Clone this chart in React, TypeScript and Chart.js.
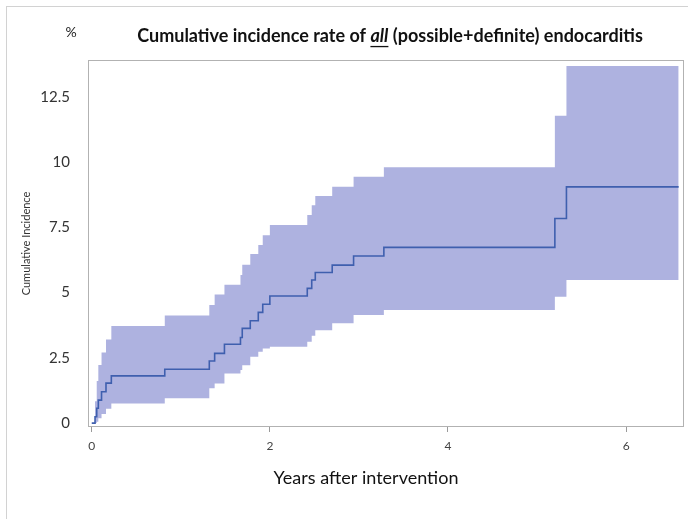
import React, { useEffect, useRef } from "react";
import { Chart, registerables } from "chart.js";

Chart.register(...registerables);

// ---- data (years after intervention, cumulative incidence %) ----
const times = [0, 0.037, 0.056, 0.074, 0.11, 0.16, 0.22, 0.82, 1.32, 1.38, 1.49, 1.67, 1.69, 1.78, 1.87, 1.92, 2.0, 2.42, 2.47, 2.51, 2.7, 2.94, 3.28, 5.2, 5.33, 6.59];
const cumulativeIncidence = [0, 0.24, 0.57, 0.88, 1.2, 1.53, 1.81, 2.06, 2.38, 2.67, 3.02, 3.28, 3.63, 3.92, 4.24, 4.55, 4.87, 5.16, 5.48, 5.77, 6.05, 6.4, 6.73, 7.84, 9.05, 9.05];
const lowerCI = [0, 0, 0.05, 0.19, 0.35, 0.55, 0.75, 0.95, 1.33, 1.52, 1.9, 2.03, 2.22, 2.54, 2.73, 2.86, 2.92, 3.12, 3.35, 3.56, 3.82, 4.14, 4.33, 4.84, 5.48, 5.48];
const upperCI = [0, 0.84, 1.61, 2.23, 2.7, 3.2, 3.72, 4.12, 4.52, 4.93, 5.3, 5.67, 6.07, 6.48, 6.82, 7.2, 7.59, 7.97, 8.35, 8.7, 9.05, 9.44, 9.8, 11.77, 13.68, 13.68];

const xTickValues = [0, 2, 4, 6];
const yTickValues = [0, 2.5, 5, 7.5, 10, 12.5];

const titleBefore = "Cumulative incidence rate of ";
const titleEmph = "all";
const titleAfter = " (possible+definite) endocarditis";
const unitLabel = "%";
const xAxisTitle = "Years after intervention";
const yAxisTitle = "Cumulative Incidence";

const FONT = "Lato, 'Open Sans', sans-serif";
const BAND = "rgb(174,178,224)";
const LINE = "#3F5FAE";

const decorPlugin = {
  id: "decor",
  beforeDraw(chart: any) {
    const ctx = chart.ctx;
    ctx.save();
    ctx.strokeStyle = "#d2d2d2";
    ctx.lineWidth = 1;
    ctx.strokeRect(6.5, 6.5, chart.width, chart.height);
    ctx.restore();
  },
  afterDraw(chart: any) {
    const { ctx, chartArea: a } = chart;
    ctx.save();
    // plot frame
    ctx.strokeStyle = "#b2b2b2";
    ctx.lineWidth = 1;
    ctx.strokeRect(Math.round(a.left) + 0.5, Math.round(a.top) + 0.5, Math.round(a.right - a.left) - 1, Math.round(a.bottom - a.top) - 1);

    // title with emphasised word
    const targetW = 506;
    let size = 15;
    const f1 = (s: number) => `bold ${s}px ${FONT}`;
    const f2 = (s: number) => `italic bold ${s}px ${FONT}`;
    const measure = (s: number) => {
      ctx.font = f1(s);
      const w1 = ctx.measureText(titleBefore).width;
      const w3 = ctx.measureText(titleAfter).width;
      ctx.font = f2(s);
      const w2 = ctx.measureText(titleEmph).width;
      return [w1, w2, w3];
    };
    let [w1, w2, w3] = measure(size);
    size = size * targetW / (w1 + w2 + w3);
    [w1, w2, w3] = measure(size);
    const cx = 390;
    const ty = 36;
    let x = cx - (w1 + w2 + w3) / 2;
    ctx.fillStyle = "#111";
    ctx.textBaseline = "middle";
    ctx.textAlign = "left";
    ctx.font = f1(size);
    ctx.fillText(titleBefore, x, ty);
    x += w1;
    ctx.font = f2(size);
    ctx.fillText(titleEmph, x, ty);
    ctx.fillRect(x, ty + size * 0.55, w2, 1.3);
    x += w2;
    ctx.font = f1(size);
    ctx.fillText(titleAfter, x, ty);

    // unit label
    ctx.font = `14px ${FONT}`;
    ctx.fillStyle = "#222";
    ctx.textAlign = "center";
    ctx.fillText(unitLabel, 71, 32);

    // x axis title
    ctx.font = `18px ${FONT}`;
    ctx.fillStyle = "#111";
    ctx.fillText(xAxisTitle, 366, 478);
    ctx.restore();
  },
};

export default function App() {
  const ref = useRef<HTMLCanvasElement | null>(null);

  useEffect(() => {
    document.body.style.margin = "0";
    document.body.style.overflow = "hidden";
    const canvas = ref.current;
    if (!canvas) return;
    const pts = (ys: number[]) => times.map((t, i) => ({ x: t, y: ys[i] }));
    const chart = new Chart(canvas, {
      type: "line",
      data: {
        datasets: [
          {
            label: "Cumulative Incidence",
            data: pts(cumulativeIncidence),
            stepped: true,
            borderColor: LINE,
            borderWidth: 1.6,
            pointRadius: 0,
            fill: false,
          },
          {
            label: "lower",
            data: pts(lowerCI),
            stepped: true,
            borderWidth: 0,
            borderColor: "rgba(0,0,0,0)",
            pointRadius: 0,
            fill: false,
          },
          {
            label: "upper",
            data: pts(upperCI),
            stepped: true,
            borderWidth: 0,
            borderColor: "rgba(0,0,0,0)",
            backgroundColor: BAND,
            pointRadius: 0,
            fill: "-1",
          },
        ],
      },
      options: {
        animation: false,
        responsive: false,
        maintainAspectRatio: false,
        layout: { padding: { top: 60, right: 4, left: 0, bottom: 0 } },
        plugins: {
          legend: { display: false },
          tooltip: { enabled: false },
          title: { display: false },
        },
        scales: {
          x: {
            type: "linear",
            min: -0.042,
            max: 6.65,
            afterBuildTicks: (s: any) => {
              s.ticks = xTickValues.map((v) => ({ value: v }));
            },
            afterFit: (s: any) => {
              s.height = 92;
            },
            grid: { drawOnChartArea: false, drawTicks: true, tickLength: 5, color: "#9a9a9a" },
            border: { display: false },
            ticks: {
              font: { size: 12, family: FONT },
              color: "#444",
              padding: 7,
              maxRotation: 0,
              callback: (v: any) => String(v),
            },
          },
          y: {
            type: "linear",
            min: -0.15,
            max: 13.91,
            afterBuildTicks: (s: any) => {
              s.ticks = yTickValues.map((v) => ({ value: v }));
            },
            afterFit: (s: any) => {
              s.width = 88;
            },
            grid: { display: false },
            border: { display: false },
            ticks: {
              font: { size: 15, family: FONT },
              color: "#333",
              padding: 10,
              callback: (v: any) => String(v),
            },
            title: {
              display: true,
              text: yAxisTitle,
              font: { size: 11, family: FONT },
              color: "#333",
              padding: { top: 20, bottom: 0 },
            },
          },
        },
      },
      plugins: [decorPlugin],
    } as any);
    return () => chart.destroy();
  }, []);

  return (
    <div style={{ width: 688, height: 519, position: "relative", background: "#fff" }}>
      <canvas ref={ref} width={688} height={519} style={{ display: "block" }} />
    </div>
  );
}
